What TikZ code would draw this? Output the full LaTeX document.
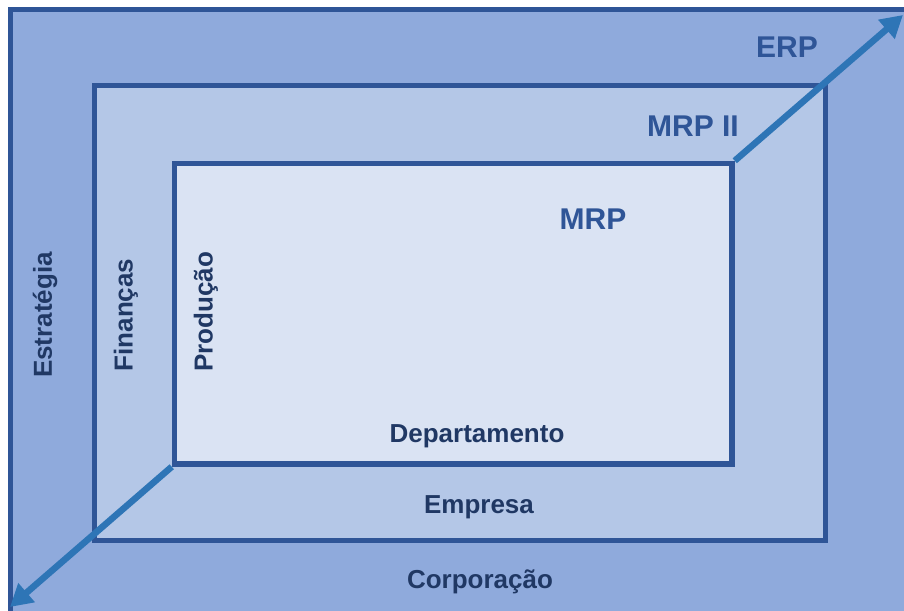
\documentclass[tikz,border=0pt]{standalone}
\usepackage{fontspec}
\setmainfont{Liberation Sans}
\usetikzlibrary{arrows.meta}
\definecolor{outerfill}{HTML}{8FAADC}
\definecolor{midfill}{HTML}{B4C7E7}
\definecolor{innerfill}{HTML}{DAE3F3}
\definecolor{boxline}{HTML}{2F5597}
\definecolor{arrowblue}{HTML}{2E75B6}
\definecolor{darktext}{HTML}{203864}
\definecolor{bluetext}{HTML}{2F5597}
\tikzset{
  levelbox/.style={draw=boxline, line width=5.5pt, rectangle, inner sep=0pt},
  lvltext/.style={font=\bfseries\fontsize{26}{30}\selectfont, text=darktext, inner sep=0pt},
  systext/.style={font=\bfseries\fontsize{30}{34}\selectfont, text=bluetext, inner sep=0pt},
  growarrow/.style={draw=arrowblue, line width=6.5pt, -{Triangle[length=22pt,width=24pt]}}
}
\begin{document}
\begin{tikzpicture}[x=1pt,y=-1pt]
\useasboundingbox (0,0) rectangle (904,610);
\fill[white] (0,0) rectangle (904,610);
\begin{scope}
\clip (0,0) rectangle (904,610);
\node[levelbox, fill=outerfill, minimum width=920pt, minimum height=630pt] (outer) at (470.5,324.5) {};
\end{scope}
\node[levelbox, fill=midfill, minimum width=731pt, minimum height=455pt] (mid) at (460,313) {};
\node[levelbox, fill=innerfill, minimum width=557.5pt, minimum height=300.5pt] (inner) at (453.25,313.75) {};
\coordinate (tipup) at (903,15);
\coordinate (tipdown) at (10,607);
\draw[growarrow] (inner.north east) -- (tipup);
\draw[growarrow] (inner.south west) -- (tipdown);
\node[systext] (erp) at (787,47) {ERP};
\node[systext] (mrpii) at (693,126) {MRP II};
\node[systext] (mrp) at (593,219) {MRP};
\node[lvltext, anchor=base] (dep) at (477,442) {Departamento};
\node[lvltext, anchor=base] (emp) at (479,513) {Empresa};
\node[lvltext, anchor=base] (corp) at (480,588) {Corporação};
\node[lvltext, rotate=90] (estr) at (45,315) {Estratégia};
\node[lvltext, rotate=90] (fin) at (126,315) {Finanças};
\node[lvltext, rotate=90] (prod) at (206,312) {Produção};
\end{tikzpicture}
\end{document}
